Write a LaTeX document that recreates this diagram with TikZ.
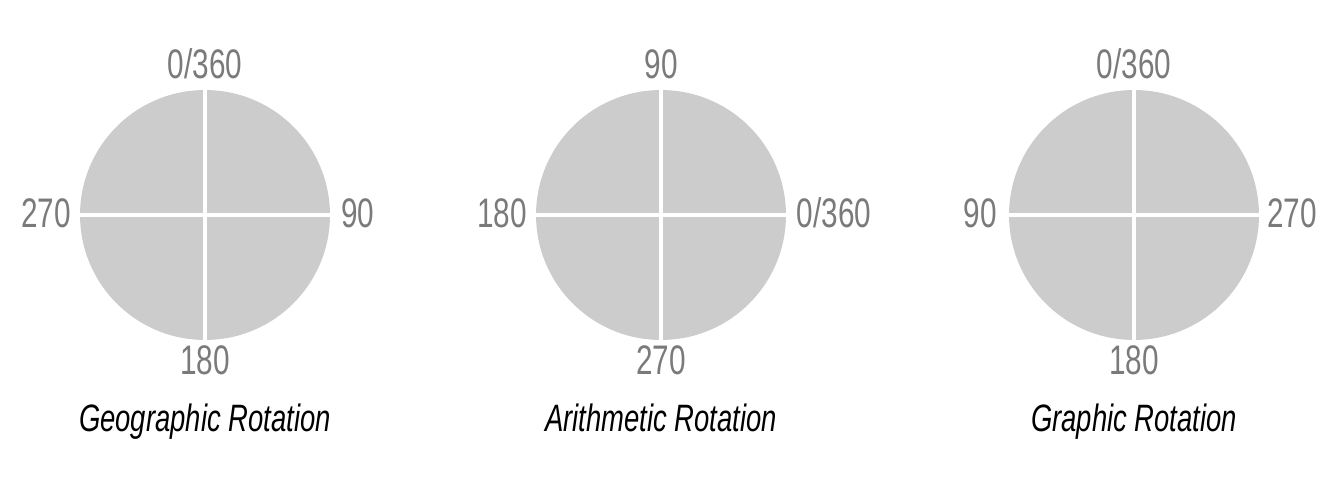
\documentclass[tikz,border=0pt]{standalone}
\usepackage{fontspec}
\setmainfont{Liberation Sans}[FakeStretch=0.72]
\definecolor{disc}{HTML}{CCCCCC}
\definecolor{deg}{HTML}{7A7A7A}

\begin{document}
\begin{tikzpicture}[x=0.02cm, y=-0.02cm,
        dial/.style={circle, fill=disc, inner sep=0pt, outer sep=0pt, minimum size=5cm},
        deglabel/.style={anchor=base, text=deg, font=\fontsize{23.5}{26}\selectfont},
        title/.style={anchor=base, text=black, font=\fontsize{21.7}{26}\selectfont\itshape},
        cross/.style={white, line width=2.3pt}]
    \useasboundingbox (0,0) rectangle (1333,486);

    % geographic
    \node (GEO) [dial] at (205,215) {};
    \draw[cross] (GEO.north) -- (GEO.south);
    \draw[cross] (GEO.west) -- (GEO.east);
    \node (GEOn) [deglabel] at (205,79) {0/360};
    \node (GEOe) [deglabel] at (358,228) {90};
    \node (GEOs) [deglabel] at (205,375) {180};
    \node (GEOw) [deglabel] at (46,228) {270};
    \node (GEOt) [title] at (205,432) {Geographic Rotation};

    % arithmetic
    \node (ARI) [dial] at (661,215) {};
    \draw[cross] (ARI.north) -- (ARI.south);
    \draw[cross] (ARI.west) -- (ARI.east);
    \node (ARIn) [deglabel] at (661,79) {90};
    \node (ARIe) [deglabel] at (834,228) {0/360};
    \node (ARIs) [deglabel] at (661,375) {270};
    \node (ARIw) [deglabel] at (502,228) {180};
    \node (ARIt) [title] at (661,432) {Arithmetic Rotation};

    % graphic
    \node (GRA) [dial] at (1134,215) {};
    \draw[cross] (GRA.north) -- (GRA.south);
    \draw[cross] (GRA.west) -- (GRA.east);
    \node (GRAn) [deglabel] at (1134,79) {0/360};
    \node (GRAe) [deglabel] at (1292,228) {270};
    \node (GRAs) [deglabel] at (1134,375) {180};
    \node (GRAw) [deglabel] at (980,228) {90};
    \node (GRAt) [title] at (1134,432) {Graphic Rotation};
\end{tikzpicture}
\end{document}
